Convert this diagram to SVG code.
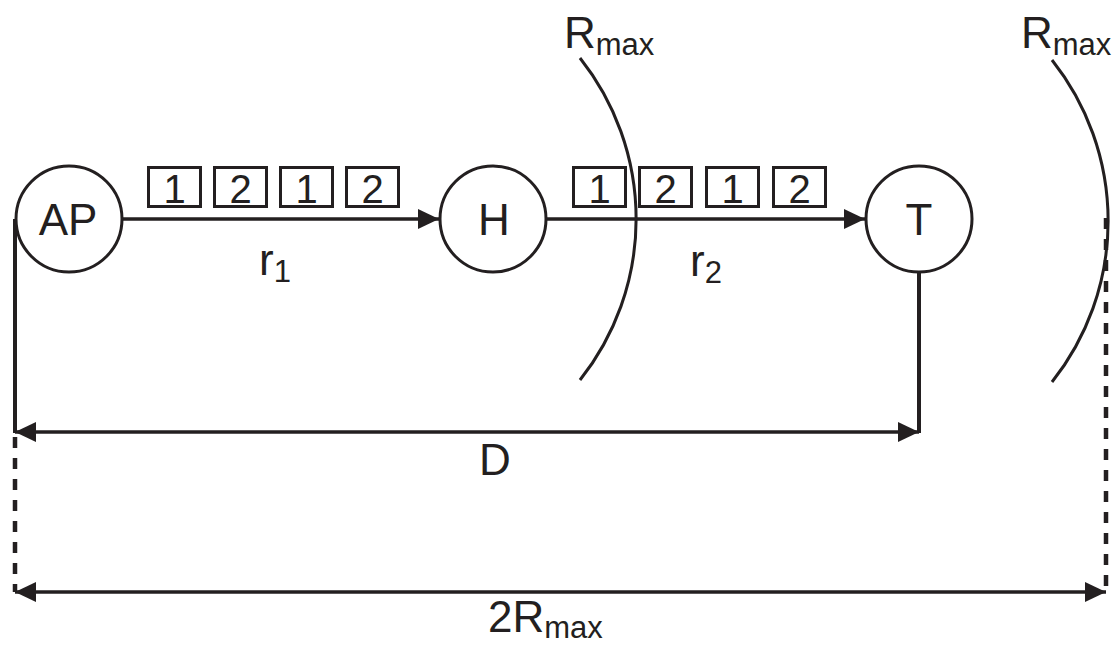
<svg xmlns="http://www.w3.org/2000/svg" width="1115" height="645" viewBox="0 0 1115 645">
<style>
.ln{stroke:#231f20;stroke-width:3.5;fill:none}
.dash{stroke:#231f20;stroke-width:4.5;fill:none;stroke-dasharray:11 10}
.circ{stroke:#231f20;stroke-width:3;fill:#fff}
.box{stroke:#231f20;stroke-width:3;fill:#fff}
.t{font-family:"Liberation Sans",Arial,sans-serif;fill:#231f20}
.big{font-size:44px}
.dig{font-size:40px}
.sub{font-size:31px}
</style>
<defs>
<marker id="ah" markerUnits="userSpaceOnUse" markerWidth="24" markerHeight="22" refX="21" refY="10" orient="auto-start-reverse">
<path d="M0,0 L21,10 L0,20 z" fill="#231f20"/>
</marker>
</defs>
<rect width="1115" height="645" fill="#fff"/>
<g id="connectors">
<line class="ln" x1="122" y1="219" x2="439" y2="219" marker-end="url(#ah)"/>
<line class="ln" x1="547" y1="219" x2="865" y2="219" marker-end="url(#ah)"/>
<line class="ln" x1="15" y1="219" x2="15" y2="433" style="stroke-width:4"/>
<line class="ln" x1="919" y1="273" x2="919" y2="433" style="stroke-width:4"/>
<line class="ln" x1="15" y1="432" x2="919" y2="432" marker-start="url(#ah)" marker-end="url(#ah)"/>
<line class="dash" x1="15" y1="437" x2="15" y2="592"/>
<line class="dash" x1="1106" y1="218" x2="1106" y2="592"/>
<line class="ln" x1="15" y1="592" x2="1106" y2="592" marker-start="url(#ah)" marker-end="url(#ah)"/>
<path class="ln" d="M580 58 A259 259 0 0 1 580 380" style="stroke-width:3"/>
<path class="ln" d="M1052 60 A259 259 0 0 1 1052 382" style="stroke-width:3"/>
</g>
<g id="node-AP">
<circle class="circ" cx="69" cy="219" r="53"/>
<text class="t big" x="68" y="235" text-anchor="middle">AP</text>
</g>
<g id="node-H">
<circle class="circ" cx="493" cy="219" r="53"/>
<text class="t big" x="494" y="235" text-anchor="middle">H</text>
</g>
<g id="node-T">
<circle class="circ" cx="919" cy="219" r="53"/>
<text class="t big" x="919" y="235" text-anchor="middle">T</text>
</g>
<g id="packets-1">
<rect class="box" x="148.5" y="167.5" width="52" height="39"/>
<rect class="box" x="214.5" y="167.5" width="52" height="39"/>
<rect class="box" x="280.5" y="167.5" width="52" height="39"/>
<rect class="box" x="346.5" y="167.5" width="52" height="39"/>
<text class="t dig" x="174.5" y="203" text-anchor="middle">1</text>
<text class="t dig" x="240.5" y="203" text-anchor="middle">2</text>
<text class="t dig" x="306.5" y="203" text-anchor="middle">1</text>
<text class="t dig" x="372.5" y="203" text-anchor="middle">2</text>
</g>
<g id="packets-2">
<rect class="box" x="573.5" y="167.5" width="52" height="39"/>
<rect class="box" x="639.5" y="167.5" width="52" height="39"/>
<rect class="box" x="706.5" y="167.5" width="52" height="39"/>
<rect class="box" x="773.5" y="167.5" width="52" height="39"/>
<text class="t dig" x="599.5" y="203" text-anchor="middle">1</text>
<text class="t dig" x="665.5" y="203" text-anchor="middle">2</text>
<text class="t dig" x="732.5" y="203" text-anchor="middle">1</text>
<text class="t dig" x="799.5" y="203" text-anchor="middle">2</text>
</g>
<g id="labels">
<text class="t big" x="259" y="275">r<tspan class="sub" dy="7">1</tspan></text>
<text class="t big" x="690" y="276">r<tspan class="sub" dy="7">2</tspan></text>
<text class="t big" x="564" y="48">R<tspan class="sub" dy="7">max</tspan></text>
<text class="t big" x="1021" y="48">R<tspan class="sub" dy="7">max</tspan></text>
<text class="t big" x="479" y="475">D</text>
<text class="t big" x="488" y="632">2R<tspan class="sub" dy="6">max</tspan></text>
</g>
</svg>
